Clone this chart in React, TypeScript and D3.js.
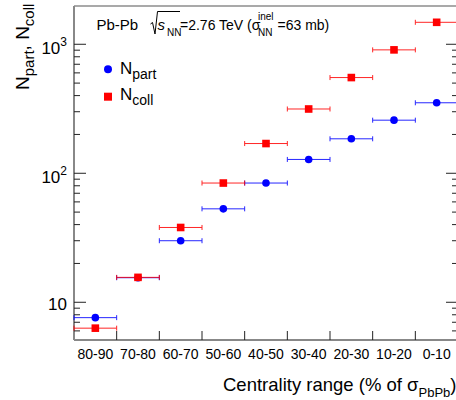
import React from "react";
import * as d3 from "d3";

const categories = ["80-90", "70-80", "60-70", "50-60", "40-50", "30-40", "20-30", "10-20", "0-10"];
const nPart = [7.6, 15.5, 30, 53, 84, 128, 185, 258, 352];
const nColl = [6.3, 15.6, 38, 84, 170, 315, 552, 905, 1480];
const yMajorTicks = [10, 100, 1000];
const yMajorExp = ["", "2", "3"];

const W = 456;
const H = 400;
const L = 74;
const R = 458;
const T = 6;
const B = 340;
const FONT = "'Liberation Sans', Arial, Helvetica, sans-serif";

export default function App() {
  const x = d3.scaleLinear().domain([0, categories.length]).range([L, R]);
  const y = d3.scaleLog().domain([5.1, 1980]).range([B, T]);

  const minorTicks: number[] = [];
  [1, 10, 100, 1000].forEach((d) => {
    for (let k = 2; k <= 9; k++) {
      const v = d * k;
      if (v >= 5.1 && v <= 1980) minorTicks.push(v);
    }
  });

  const blue = "#0000ff";
  const red = "#ff0000";

  const errBar = (i: number, v: number, color: string, key: string) => {
    const yy = y(v);
    const x0 = x(i);
    const x1 = Math.min(x(i + 1), W + 2);
    return (
      <g key={key} stroke={color} strokeWidth={1} opacity={0.85}>
        <line x1={x0} x2={x1} y1={yy} y2={yy} />
        <line x1={x0} x2={x0} y1={yy - 2.5} y2={yy + 2.5} />
        <line x1={x1} x2={x1} y1={yy - 2.5} y2={yy + 2.5} />
      </g>
    );
  };

  return (
    <svg
      width={W}
      height={H}
      style={{ position: "absolute", left: 0, top: 0, background: "#fff" }}
      fontFamily={FONT}
    >
      <rect x={0} y={0} width={W} height={H} fill="#fff" />
      {/* frame */}
      <line x1={L} x2={R} y1={T} y2={T} stroke="#555" strokeWidth={1.2} />
      <line x1={L} x2={L} y1={T} y2={B} stroke="#888" strokeWidth={2} />
      <line x1={R} x2={R} y1={T} y2={B} stroke="#888" strokeWidth={2} />
      <line x1={L} x2={R} y1={B} y2={B} stroke="#888" strokeWidth={2} />

      {/* y ticks */}
      {yMajorTicks.map((v) => (
        <g key={"M" + v} stroke="#222" strokeWidth={1}>
          <line x1={L} x2={L + 12} y1={y(v)} y2={y(v)} />
          <line x1={R - 12} x2={R} y1={y(v)} y2={y(v)} />
        </g>
      ))}
      {minorTicks.map((v) => (
        <g key={"m" + v} stroke="#222" strokeWidth={1}>
          <line x1={L} x2={L + 6} y1={y(v)} y2={y(v)} />
          <line x1={R - 6} x2={R} y1={y(v)} y2={y(v)} />
        </g>
      ))}
      {yMajorTicks.map((v, i) =>
        yMajorExp[i] === "" ? (
          <text key={"l" + v} x={67} y={y(v) + 7.5} fontSize={17} textAnchor="end" fill="#000">
            10
          </text>
        ) : (
          <text key={"l" + v} x={67} y={y(v) + 9.5} fontSize={17} textAnchor="end" fill="#000">
            10
            <tspan fontSize={12} dy={-8}>
              {yMajorExp[i]}
            </tspan>
          </text>
        )
      )}

      {/* x ticks */}
      {d3.range(1, categories.length).map((i) => (
        <line key={"xt" + i} x1={x(i)} x2={x(i)} y1={B} y2={B - 9} stroke="#222" strokeWidth={1} />
      ))}
      {categories.map((c, i) => (
        <text key={c} x={x(i + 0.5)} y={359} fontSize={14} textAnchor="middle" fill="#000">
          {c}
        </text>
      ))}

      {/* x title */}
      <text x={223} y={390.5} fontSize={18.5} fill="#000">
        Centrality range (% of σ
        <tspan fontSize={13} dy={6}>PbPb</tspan>
        <tspan dy={-6}>)</tspan>
      </text>

      {/* y title */}
      <text transform="translate(28.5,90) rotate(-90)" fontSize={19} fill="#000">
        N<tspan fontSize={15} dy={5}>part</tspan>
        <tspan dy={-5}>, N</tspan>
        <tspan fontSize={15} dy={5}>coll</tspan>
      </text>

      {/* header */}
      <g fontSize={14} fill="#000">
        <text x={96.5} y={29.7} fontSize={15}>Pb-Pb</text>
        <path
          d="M150.5,24 L152.5,22.5 L155,34 L157.5,11.5 L180,11.5"
          fill="none"
          stroke="#000"
          strokeWidth={1}
        />
        <text x={157.5} y={29.7} fontStyle="italic" fontSize={15}>s</text>
        <text x={167} y={35.5} fontSize={10}>NN</text>
        <text x={180} y={29.7}>=2.76 TeV (σ</text>
        <text x={258} y={20} fontSize={10}>inel</text>
        <text x={258} y={35.5} fontSize={10}>NN</text>
        <text x={277.5} y={29.7}>=63 mb)</text>
      </g>

      {/* legend */}
      <circle cx={108} cy={69.3} r={4} fill={blue} />
      <text x={120} y={74} fontSize={17} fill="#000">
        N<tspan fontSize={14} dy={5}>part</tspan>
      </text>
      <rect x={104} y={92.7} width={8} height={8} fill={red} />
      <text x={120} y={100} fontSize={17} fill="#000">
        N<tspan fontSize={14} dy={5}>coll</tspan>
      </text>

      {/* data */}
      {nPart.map((v, i) => errBar(i, v, blue, "pe" + i))}
      {nPart.map((v, i) => (
        <circle key={"p" + i} cx={x(i + 0.5)} cy={y(v)} r={3.8} fill={blue} />
      ))}
      {nColl.map((v, i) => errBar(i, v, red, "ce" + i))}
      {nColl.map((v, i) => (
        <rect key={"c" + i} x={x(i + 0.5) - 3.8} y={y(v) - 3.8} width={7.6} height={7.6} fill={red} />
      ))}
    </svg>
  );
}
